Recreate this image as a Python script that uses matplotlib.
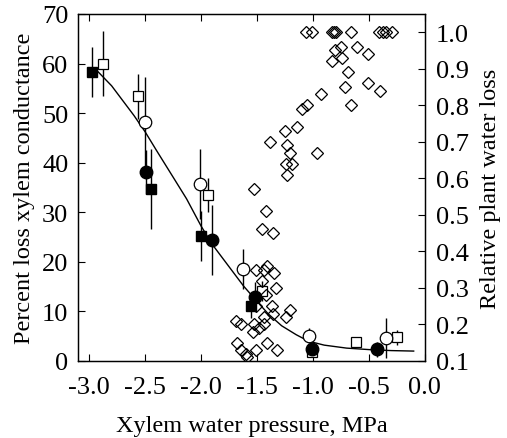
import matplotlib
matplotlib.use("Agg")
import matplotlib.pyplot as plt

plt.rcParams['font.family'] = ['Liberation Serif', 'DejaVu Serif']
plt.rcParams['mathtext.fontset'] = 'stix'

# Percent loss xylem conductance (left axis)
fsq_x = [-2.98, -2.45, -2.00, -1.55]
fsq_y = [58.3, 34.7, 25.2, 11.1]
fsq_e = [5.0, 8.0, 5.0, 2.5]

osq_x = [-2.88, -2.56, -1.94, -1.46, -1.01, -0.62, -0.25]
osq_y = [60.0, 53.4, 33.5, 14.2, 1.8, 3.8, 4.8]
osq_e = [6.5, 4.5, 3.5, 2.0, 1.0, 1.0, 1.5]

oci_x = [-2.50, -2.01, -1.63, -1.04, -0.35]
oci_y = [48.2, 35.7, 18.5, 5.1, 4.6]
oci_e = [9.0, 7.0, 4.0, 1.5, 4.0]

fci_x = [-2.49, -1.90, -1.52, -1.01, -0.43]
fci_y = [38.1, 24.4, 13.0, 2.4, 2.4]
fci_e = [4.5, 7.0, 3.0, 1.0, 1.5]

# Fitted curve
fit_x = [-2.95, -2.8, -2.6, -2.5, -2.4, -2.24, -2.13, -2.0, -1.9, -1.8, -1.7,
         -1.62, -1.5, -1.4, -1.28, -1.15, -1.04, -0.9, -0.7, -0.5, -0.3, -0.1]
fit_y = [59.0, 55.5, 49.5, 46.2, 42.5, 36.7, 32.7, 27.2, 23.5, 20.5, 17.5,
         15.1, 12.0, 9.5, 7.1, 5.3, 4.0, 3.2, 2.6, 2.3, 2.1, 2.0]

# Relative plant water loss (right axis)
dia_x = [-1.06, -1.01, -0.83, -0.81, -0.79, -0.66, -0.41, -0.37, -0.35, -0.29,
         -0.75, -0.80, -0.61, -0.74, -0.83, -0.51, -0.69, -0.51, -0.71, -0.40,
         -0.93, -0.66, -1.05, -1.10, -1.14, -1.25, -1.38, -1.23, -1.21, -0.96,
         -1.24, -1.19, -1.23, -1.53, -1.42, -1.46, -1.36,
         -1.51, -1.44, -1.41, -1.35, -1.46, -1.33, -1.42, -1.37, -1.51, -1.44,
         -1.36, -1.21, -1.24, -1.69, -1.64, -1.53, -1.44, -1.54, -1.48, -1.41,
         -1.68, -1.64, -1.60, -1.59, -1.51, -1.32]
dia_y = [1.00, 1.00, 1.00, 1.00, 1.00, 1.00, 1.00, 1.00, 1.00, 1.00,
         0.96, 0.95, 0.96, 0.93, 0.92, 0.94, 0.89, 0.86, 0.85, 0.84,
         0.83, 0.80, 0.80, 0.79, 0.74, 0.73, 0.70, 0.69, 0.67, 0.67,
         0.64, 0.64, 0.61, 0.57, 0.51, 0.46, 0.45,
         0.35, 0.35, 0.36, 0.34, 0.32, 0.30, 0.28, 0.25, 0.25, 0.22,
         0.23, 0.24, 0.22, 0.21, 0.20, 0.20, 0.20, 0.18, 0.19, 0.15,
         0.15, 0.13, 0.12, 0.11, 0.13, 0.13]

x_ticks = [-3.0, -2.5, -2.0, -1.5, -1.0, -0.5, 0.0]
y_ticks = [0, 10, 20, 30, 40, 50, 60, 70]
r_ticks = [0.1, 0.2, 0.3, 0.4, 0.5, 0.6, 0.7, 0.8, 0.9, 1.0]

fig = plt.figure(figsize=(5.07, 4.39), dpi=100)
ax = fig.add_axes([0.154, 0.1754, 0.684, 0.7906])

TFS = 19
LFS = 17.5
ax.plot(fit_x, fit_y, color='black', lw=1.0, zorder=2)

eb = dict(fmt='none', ecolor='black', elinewidth=1.0, capsize=0, zorder=1)
ax.errorbar(fsq_x, fsq_y, yerr=fsq_e, **eb)
ax.errorbar(osq_x, osq_y, yerr=osq_e, **eb)
ax.errorbar(oci_x, oci_y, yerr=oci_e, **eb)
ax.errorbar(fci_x, fci_y, yerr=fci_e, **eb)

ax.plot(osq_x, osq_y, 's', ms=7.5, mfc='white', mec='black', mew=0.9, zorder=3)
ax.plot(oci_x, oci_y, 'o', ms=9, mfc='white', mec='black', mew=0.9, zorder=3)
ax.plot(fsq_x, fsq_y, 's', ms=7.5, mfc='black', mec='black', zorder=4)
ax.plot(fci_x, fci_y, 'o', ms=9, mfc='black', mec='black', zorder=4)

ax.set_xlim(-3.1, 0.0)
ax.set_ylim(0, 70)
ax.set_xticks(x_ticks)
ax.set_xticklabels(['%.1f' % v for v in x_ticks])
ax.set_yticks(y_ticks)
ax.tick_params(axis='both', direction='in', length=5, width=0.8, labelsize=TFS, pad=7)
ax.tick_params(axis='x', top=True, pad=11)
ax.set_xlabel('Xylem water pressure, MPa', fontsize=LFS, labelpad=12)
ax.set_ylabel('Percent loss xylem conductance', fontsize=LFS, labelpad=5)

ax2 = ax.twinx()
ax2.plot(dia_x, dia_y, 'D', ms=6.5, mfc='none', mec='black', mew=0.9)
ax2.set_ylim(0.1, 1.05)
ax2.set_yticks(r_ticks)
ax2.set_yticklabels(['%.1f' % v for v in r_ticks])
ax2.tick_params(axis='y', direction='in', length=5, width=0.8, labelsize=TFS, pad=8)
ax2.set_ylabel('Relative plant water loss', fontsize=LFS, labelpad=8)

for a in (ax, ax2):
    for s in a.spines.values():
        s.set_linewidth(0.9)

fig.savefig('out.png', dpi=100)
